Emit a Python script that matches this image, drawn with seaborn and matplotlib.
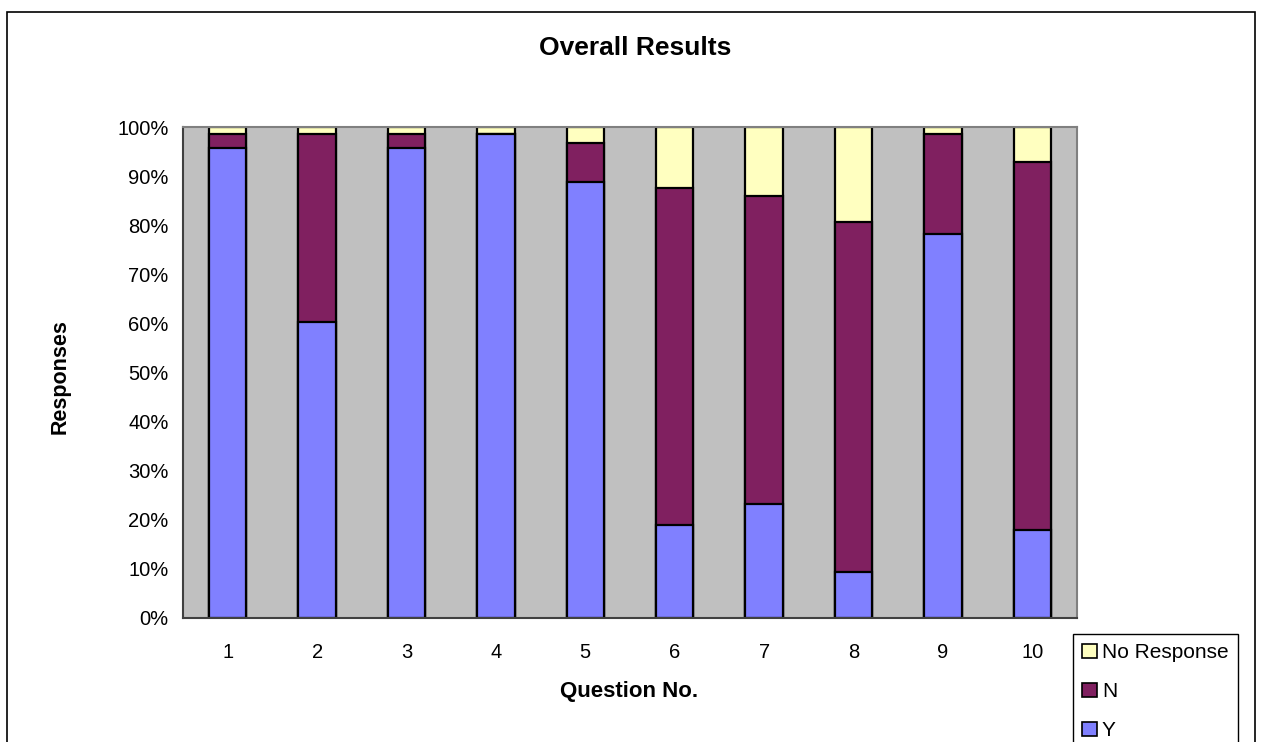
import matplotlib
matplotlib.use("Agg")
import matplotlib.pyplot as plt
from matplotlib.patches import Patch, Rectangle
from matplotlib.ticker import PercentFormatter, FixedLocator, NullFormatter
import numpy as np
import seaborn as sns

# Survey responses per question, as percentages of all answers
questions = ["1", "2", "3", "4", "5", "6", "7", "8", "9", "10"]
yes_pct = [95.7, 60.2, 95.7, 98.6, 88.8, 19.0, 23.1, 9.3, 78.2, 17.9]
no_pct = [2.9, 38.4, 2.9, 0.0, 8.1, 68.6, 62.9, 71.3, 20.4, 75.0]
no_response_pct = [1.4, 1.4, 1.4, 1.4, 3.1, 12.4, 14.0, 19.4, 1.4, 7.1]

series_names = ["Y", "N", "No Response"]
series_colors = ["#8080FF", "#802060", "#FFFFC0"]

sns.set_theme(style="white")
plt.rcParams["font.family"] = ["Liberation Sans", "DejaVu Sans"]
plt.rcParams["text.color"] = "black"

fig = plt.figure(figsize=(12.63, 7.42), dpi=100)
ax = fig.add_axes([183 / 1263, 1 - 617.7 / 742, (1077 - 183) / 1263, (617.7 - 127.3) / 742])
ax.set_facecolor("#C0C0C0")

# Stacked bars: draw cumulative totals from the top segment down
y_arr = np.array(yes_pct)
n_arr = np.array(no_pct)
nr_arr = np.array(no_response_pct)
stacks = [y_arr + n_arr + nr_arr, y_arr + n_arr, y_arr]
for heights, color in zip(stacks, series_colors[::-1]):
    sns.barplot(x=questions, y=heights, order=questions, color=color,
                saturation=1, width=0.42, edgecolor="black", linewidth=1.6,
                errorbar=None, ax=ax)

ax.set_xlim(-0.5, 9.5)
ax.set_ylim(0, 100)
ax.set_xlabel("")
ax.set_ylabel("")

# Y axis: percent ticks crossing the axis line
ax.yaxis.set_major_locator(FixedLocator(np.arange(0, 101, 10)))
ax.yaxis.set_major_formatter(PercentFormatter(100, decimals=0))
ax.tick_params(axis="y", which="major", direction="inout", length=9,
               width=1, color="#404040", labelsize=14.5, pad=6, labelcolor="black")

# X axis: ticks at category boundaries, labels at category centres
ax.xaxis.set_major_locator(FixedLocator(np.arange(-0.5, 10, 1)))
ax.xaxis.set_major_formatter(NullFormatter())
ax.xaxis.set_minor_locator(FixedLocator(np.arange(0, 10, 1)))
ax.set_xticklabels(questions, minor=True)
ax.tick_params(axis="x", which="major", direction="inout", length=9,
               width=1, color="#404040")
ax.tick_params(axis="x", which="minor", length=0, labelsize=14.5, pad=18,
               labelcolor="black")

for side in ["left", "bottom"]:
    ax.spines[side].set_color("#404040")
    ax.spines[side].set_linewidth(1.5)
for side in ["top", "right"]:
    ax.spines[side].set_color("#808080")
    ax.spines[side].set_linewidth(1.5)

fig.text(635 / 1263, 1 - 48 / 742, "Overall Results", ha="center", va="center",
         fontsize=19, fontweight="bold", color="black")
fig.text(60 / 1263, 1 - 377 / 742, "Responses", ha="center", va="center",
         rotation=90, fontsize=15.5, fontweight="bold", color="black")
fig.text(629 / 1263, 1 - 692 / 742, "Question No.", ha="center", va="center",
         fontsize=16, fontweight="bold", color="black")

handles = [Patch(facecolor=c, edgecolor="black", linewidth=1.2, label=n)
           for n, c in zip(series_names, series_colors)][::-1]
leg = fig.legend(handles=handles, loc="upper left",
                 bbox_to_anchor=(1073 / 1263, 1 - 634 / 742),
                 fontsize=15, frameon=True, fancybox=False, framealpha=1,
                 edgecolor="black", handlelength=0.68, handleheight=0.68,
                 handletextpad=0.25, labelspacing=0.95, borderpad=0.45,
                 borderaxespad=0)
leg.get_frame().set_linewidth(1.0)
for t in leg.get_texts():
    t.set_color("black")

# Outer chart frame
fig.patches.append(Rectangle((7 / 1263, -0.05), (1255 - 7) / 1263, 1.05 - 12 / 742,
                             transform=fig.transFigure, fill=False,
                             edgecolor="black", linewidth=1.2, clip_on=False))

fig.savefig("out.png", dpi=100)
